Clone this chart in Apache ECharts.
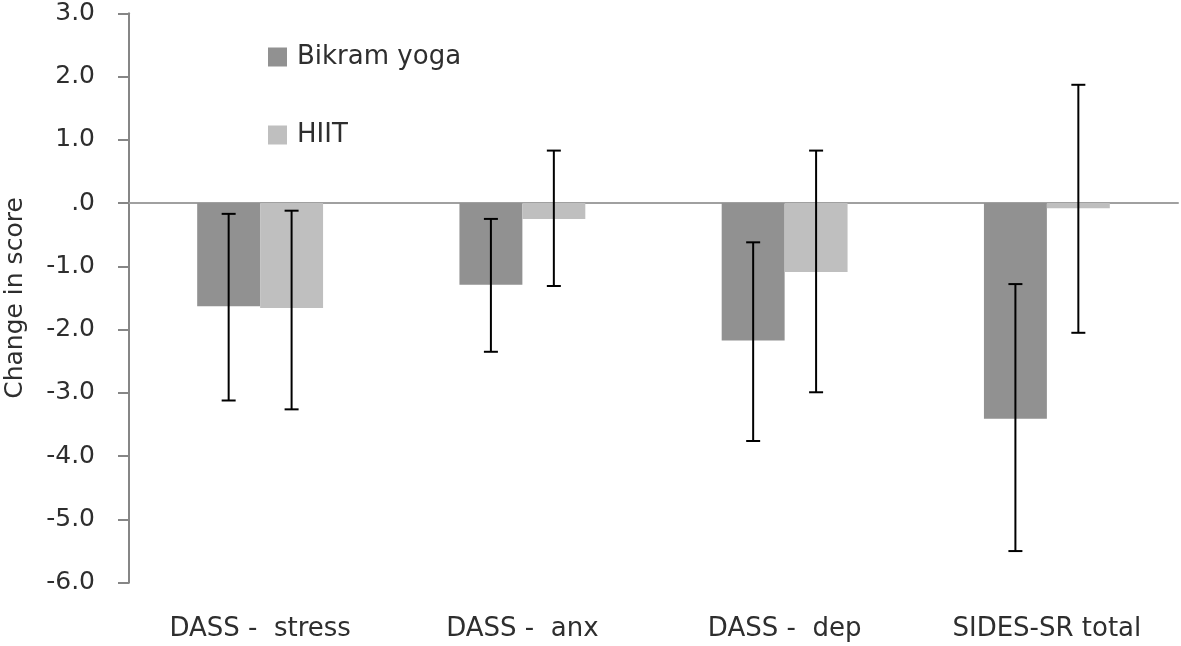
<!DOCTYPE html>
<html>
<head>
<meta charset="utf-8">
<script src="https://cdn.jsdelivr.net/npm/echarts@6/dist/echarts.min.js"></script>
<style>
html,body{margin:0;padding:0;background:#fff;}
#chart{width:1181px;height:646px;}
</style>
</head>
<body>
<div id="chart"></div>
<script>
const categories = ['DASS -  stress', 'DASS -  anx', 'DASS -  dep', 'SIDES-SR total'];
const seriesNames = ['Bikram yoga', 'HIIT'];
const bikram = [-1.63, -1.29, -2.17, -3.41];
const hiit = [-1.66, -0.25, -1.09, -0.08];
const bikramLow = [-3.12, -2.35, -3.76, -5.50];
const bikramHigh = [-0.17, -0.25, -0.62, -1.28];
const hiitLow = [-3.26, -1.31, -2.99, -2.05];
const hiitHigh = [-0.12, 0.83, 0.83, 1.87];
const yMin = -6, yMax = 3, yInterval = 1;

const FONT = 'DejaVu Sans';
const TEXT = '#2e2e2e';
const CAT_GAP = 0.52;

function errorSeries(low, high, sign) {
  return {
    type: 'custom',
    xAxisIndex: 0,
    z: 10,
    silent: true,
    data: low.map((v, i) => [i, v, high[i]]),
    renderItem: function (params, api) {
      const i = api.value(0);
      const lo = api.coord([i, api.value(1)]);
      const hi = api.coord([i, api.value(2)]);
      const band = api.size([1, 0])[0];
      const x = lo[0] + sign * band * (1 - CAT_GAP) / 4;
      const cap = 7;
      const style = { stroke: '#000', lineWidth: 2 };
      return {
        type: 'group',
        children: [
          { type: 'line', shape: { x1: x, y1: lo[1], x2: x, y2: hi[1] }, style: style },
          { type: 'line', shape: { x1: x - cap, y1: lo[1], x2: x + cap, y2: lo[1] }, style: style },
          { type: 'line', shape: { x1: x - cap, y1: hi[1], x2: x + cap, y2: hi[1] }, style: style }
        ]
      };
    }
  };
}

const chart = echarts.init(document.getElementById('chart'), null, { renderer: 'canvas' });
chart.setOption({
  backgroundColor: '#ffffff',
  animation: false,
  grid: { left: 129, right: 3, top: 13.3, bottom: 63.3, containLabel: false, outerBoundsMode: 'none' },
  legend: {
    orient: 'vertical',
    left: 263,
    top: 39,
    itemWidth: 19,
    itemHeight: 19,
    itemGap: 52,
    icon: 'rect',
    data: seriesNames,
    textStyle: { fontFamily: FONT, fontSize: 26, color: TEXT, padding: [0, 0, 0, 5] }
  },
  xAxis: [
    {
      type: 'category',
      data: categories,
      position: 'bottom',
      axisLine: { show: false, onZero: false },
      axisTick: { show: false },
      axisLabel: { fontFamily: FONT, fontSize: 26, color: TEXT, margin: 34, interval: 0 },
      splitLine: { show: false }
    },
    {
      type: 'category',
      data: categories,
      position: 'bottom',
      axisLine: { show: true, onZero: true, lineStyle: { color: '#a0a0a0', width: 2 } },
      axisTick: { show: false },
      axisLabel: { show: false },
      splitLine: { show: false }
    }
  ],
  yAxis: {
    type: 'value',
    min: yMin,
    max: yMax,
    interval: yInterval,
    name: 'Change in score',
    nameLocation: 'middle',
    nameGap: 101,
    nameTextStyle: { fontFamily: FONT, fontSize: 25, color: TEXT },
    axisLine: { show: true, lineStyle: { color: '#868686', width: 2 } },
    axisTick: { show: true, length: 11, lineStyle: { color: '#868686', width: 2 } },
    axisLabel: {
      fontFamily: FONT, fontSize: 25, color: TEXT, margin: 34,
      formatter: function (v) { return v === 0 ? '.0' : v.toFixed(1); }
    },
    splitLine: { show: false }
  },
  series: [
    {
      name: seriesNames[0], type: 'bar', xAxisIndex: 0, data: bikram,
      barGap: '0%', barCategoryGap: (CAT_GAP * 100) + '%',
      itemStyle: { color: '#919191' }
    },
    {
      name: seriesNames[1], type: 'bar', xAxisIndex: 0, data: hiit,
      barGap: '0%', barCategoryGap: (CAT_GAP * 100) + '%',
      itemStyle: { color: '#bfbfbf' }
    },
    errorSeries(bikramLow, bikramHigh, -1),
    errorSeries(hiitLow, hiitHigh, 1)
  ]
});
</script>
</body>
</html>
